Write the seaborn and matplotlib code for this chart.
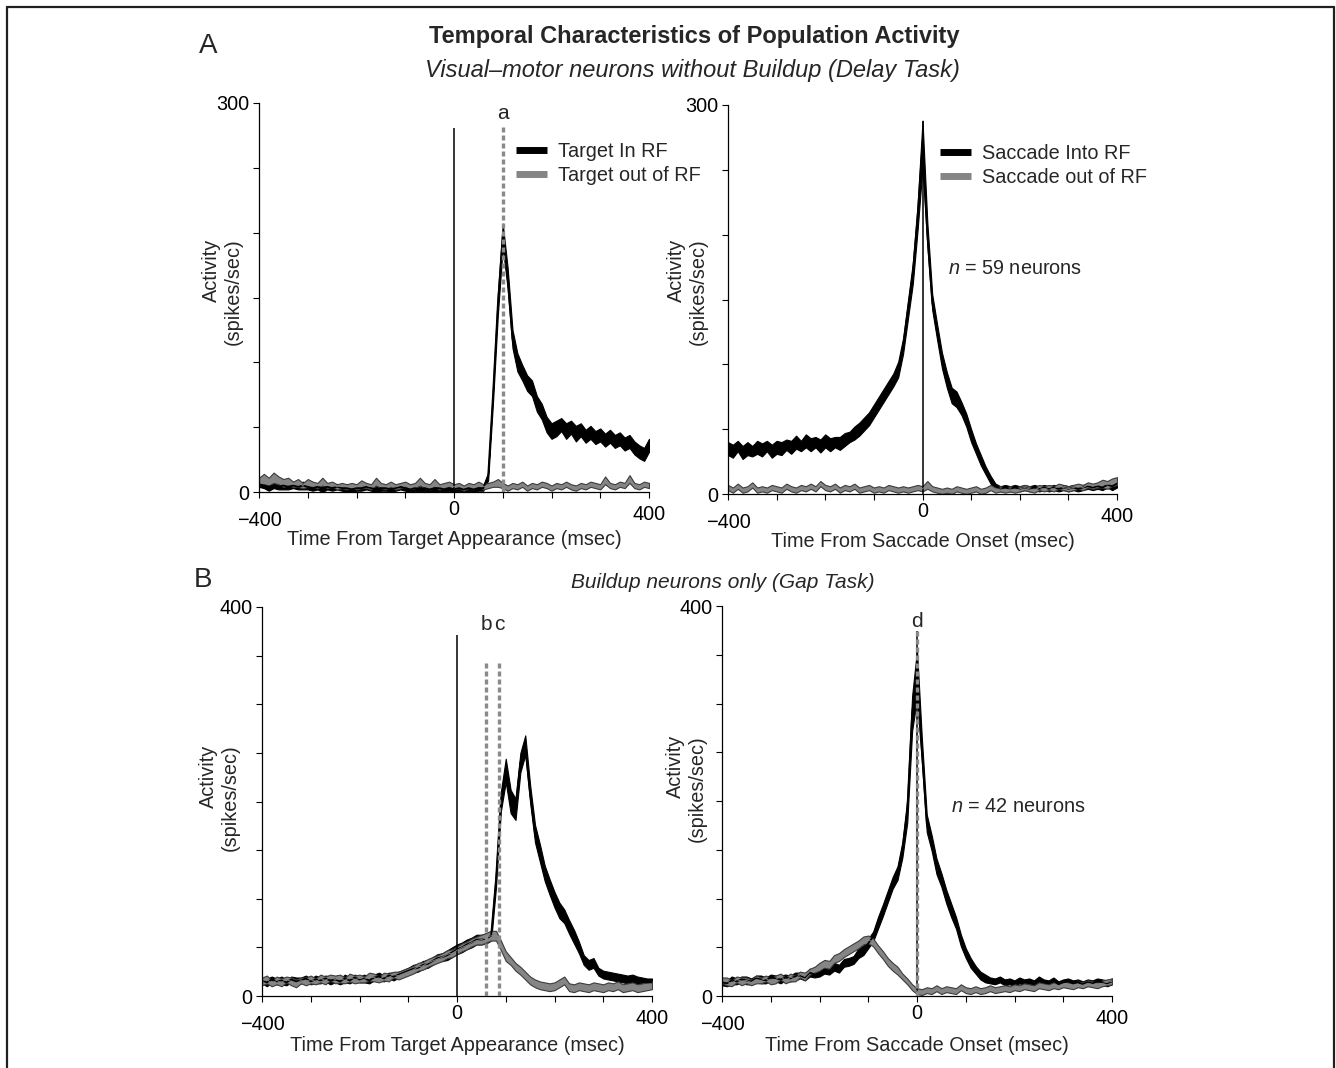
import matplotlib
matplotlib.use("Agg")
import matplotlib.pyplot as plt
import seaborn as sns
import pandas as pd
from matplotlib.lines import Line2D

# time axis (msec), one sample every 10 ms
T = list(range(-400, 401, 10))

# --- A, left: aligned on target appearance (visual-motor, delay task) ---
a_tgt_in = [6, 5, 4, 5, 4, 5, 4, 5, 4, 5,
            4, 3, 4, 3, 4, 3, 4, 3, 3, 2,
            3, 3, 4, 3, 2, 3, 3, 2, 3, 4,
            3, 2, 3, 2, 3, 2, 3, 3, 2, 3,
            2, 3, 2, 3, 2, 3, 3, 12, 75, 145,
            198, 165, 118, 100, 92, 84, 80, 68, 62, 52,
            47, 49, 52, 47, 50, 45, 48, 43, 46, 42,
            44, 40, 43, 39, 41, 37, 39, 34, 31, 29,
            36]
a_tgt_in_sem = [2, 2, 3, 2, 2, 3, 2, 2, 2, 3,
                2, 2, 2, 3, 2, 2, 2, 2, 3, 2,
                2, 2, 2, 2, 3, 2, 2, 2, 2, 2,
                2, 3, 2, 2, 2, 2, 3, 2, 2, 2,
                2, 2, 2, 2, 2, 2, 2, 3, 6, 8,
                9, 8, 7, 7, 6, 6, 6, 6, 6, 6,
                6, 6, 5, 6, 5, 6, 5, 5, 5, 5,
                5, 5, 5, 5, 5, 5, 5, 5, 5, 5,
                5]
a_tgt_out = [8, 10, 8, 11, 9, 7, 8, 6, 7, 5,
             7, 6, 5, 8, 5, 6, 4, 5, 4, 5,
             4, 6, 5, 4, 8, 5, 4, 6, 4, 5,
             6, 4, 5, 8, 5, 4, 7, 4, 5, 6,
             4, 5, 3, 5, 4, 6, 4, 5, 6, 7,
             5, 3, 5, 4, 6, 3, 5, 4, 6, 5,
             3, 5, 4, 6, 4, 3, 5, 4, 6, 5,
             4, 9, 5, 4, 6, 5, 10, 5, 4, 6,
             5]
a_tgt_out_sem = [3, 4, 3, 4, 3, 3, 3, 2, 3, 2,
                 3, 2, 2, 3, 2, 2, 2, 2, 2, 2,
                 2, 3, 2, 2, 3, 2, 2, 2, 2, 2,
                 2, 2, 2, 3, 2, 2, 3, 2, 2, 2,
                 2, 2, 2, 2, 2, 2, 2, 2, 2, 3,
                 2, 2, 2, 2, 2, 2, 2, 2, 2, 2,
                 2, 2, 2, 2, 2, 2, 2, 2, 2, 2,
                 2, 3, 2, 2, 2, 2, 3, 2, 2, 2,
                 2]

# --- A, right: aligned on saccade onset ---
a_sac_in = [35, 33, 37, 32, 35, 33, 36, 34, 37, 33,
            36, 35, 38, 36, 40, 37, 41, 38, 40, 37,
            41, 38, 40, 39, 42, 44, 47, 50, 54, 58,
            64, 70, 76, 82, 88, 96, 114, 142, 170, 214,
            270, 200, 148, 125, 103, 88, 76, 73, 66, 57,
            45, 35, 26, 18, 11, 6, 4, 5, 4, 5,
            4, 5, 4, 5, 4, 5, 4, 5, 4, 5,
            4, 5, 4, 5, 6, 5, 6, 5, 7, 6,
            8]
a_sac_in_sem = [5, 5, 4, 5, 5, 4, 5, 5, 4, 5,
                5, 5, 4, 5, 5, 4, 5, 5, 4, 5,
                5, 5, 4, 5, 5, 4, 5, 5, 5, 5,
                5, 5, 5, 5, 5, 6, 6, 7, 8, 10,
                18, 9, 6, 6, 6, 6, 6, 6, 5, 5,
                5, 4, 4, 3, 3, 2, 2, 2, 2, 2,
                2, 2, 2, 2, 2, 2, 2, 2, 2, 2,
                2, 2, 2, 2, 2, 2, 2, 2, 2, 3,
                3]
a_sac_out = [5, 3, 6, 3, 4, 7, 3, 4, 3, 5,
             4, 3, 6, 4, 3, 5, 4, 6, 4, 8,
             5, 4, 6, 3, 5, 4, 6, 3, 4, 5,
             3, 4, 3, 5, 4, 3, 4, 3, 4, 5,
             4, 7, 4, 3, 2, 3, 2, 4, 3, 2,
             3, 4, 2, 3, 5, 3, 4, 3, 4, 3,
             4, 5, 4, 3, 5, 4, 5, 4, 6, 5,
             4, 5, 6, 5, 7, 6, 7, 8, 7, 9,
             10]
a_sac_out_sem = [2, 2, 2, 2, 2, 2, 2, 2, 2, 2,
                 2, 2, 2, 2, 2, 2, 2, 2, 2, 2,
                 2, 2, 2, 2, 2, 2, 2, 2, 2, 2,
                 2, 2, 2, 2, 2, 2, 2, 2, 2, 2,
                 2, 3, 2, 2, 2, 2, 2, 2, 2, 2,
                 2, 2, 2, 2, 2, 2, 2, 2, 2, 2,
                 2, 2, 2, 2, 2, 2, 2, 2, 2, 2,
                 2, 2, 2, 2, 2, 2, 2, 3, 3, 3,
                 3]

# --- B, left: buildup neurons, gap task, aligned on target ---
b_tgt_in = [16, 14, 17, 15, 16, 14, 17, 15, 16, 18,
            15, 17, 16, 18, 16, 17, 15, 18, 16, 19,
            17, 18, 16, 19, 20, 18, 21, 20, 22, 24,
            26, 28, 29, 32, 33, 36, 39, 40, 42, 45,
            48, 50, 53, 55, 58, 58, 59, 62, 120, 200,
            232, 200, 192, 240, 258, 208, 167, 147, 126, 112,
            99, 88, 82, 71, 61, 50, 37, 32, 34, 25,
            22, 21, 20, 19, 18, 17, 18, 16, 15, 14,
            14]
b_tgt_in_sem = [3, 4, 3, 3, 4, 3, 3, 4, 3, 3,
                3, 4, 3, 3, 4, 3, 3, 4, 3, 3,
                3, 4, 3, 3, 4, 3, 3, 4, 3, 3,
                3, 4, 4, 4, 4, 4, 4, 4, 5, 5,
                5, 5, 5, 5, 5, 5, 5, 5, 8, 10,
                12, 12, 11, 10, 10, 9, 9, 9, 8, 8,
                8, 8, 7, 7, 7, 6, 5, 5, 5, 4,
                4, 4, 4, 4, 4, 4, 4, 4, 4, 4,
                4]
b_tgt_out = [15, 17, 13, 16, 14, 17, 15, 13, 16, 15,
             17, 15, 18, 16, 19, 17, 18, 16, 19, 17,
             18, 17, 20, 19, 17, 20, 19, 22, 21, 23,
             25, 27, 30, 31, 34, 36, 38, 40, 43, 44,
             47, 50, 52, 55, 57, 58, 60, 62, 62, 52,
             41, 36, 30, 26, 21, 16, 13, 11, 10, 9,
             10, 13, 16, 9, 8, 10, 9, 8, 10, 9,
             8, 10, 9, 11, 8, 9, 10, 8, 9, 10,
             11]
b_tgt_out_sem = [4, 4, 3, 4, 4, 3, 4, 4, 3, 4,
                 4, 3, 4, 4, 3, 4, 4, 3, 4, 4,
                 4, 3, 4, 4, 3, 4, 4, 3, 4, 4,
                 4, 4, 4, 4, 4, 4, 4, 4, 4, 4,
                 4, 4, 4, 4, 4, 5, 5, 5, 5, 5,
                 5, 4, 4, 4, 4, 4, 4, 4, 4, 4,
                 4, 4, 4, 4, 4, 4, 4, 4, 4, 4,
                 4, 4, 4, 4, 4, 4, 4, 4, 4, 4,
                 4]

# --- B, right: aligned on saccade onset ---
b_sac_in = [14, 13, 16, 15, 17, 16, 15, 18, 17, 16,
            19, 18, 17, 19, 18, 20, 21, 19, 24, 22,
            23, 27, 25, 30, 28, 34, 35, 37, 44, 47,
            54, 61, 75, 88, 102, 116, 126, 150, 190, 290,
            330, 252, 177, 157, 133, 119, 102, 88, 75, 57,
            44, 34, 27, 21, 18, 16, 15, 17, 14, 15,
            13, 16, 14, 15, 13, 17, 14, 13, 16, 12,
            14, 15, 13, 14, 12, 14, 13, 15, 14, 13,
            15]
b_sac_in_sem = [3, 3, 4, 3, 3, 4, 3, 3, 4, 3,
                3, 3, 4, 3, 3, 4, 3, 3, 4, 3,
                3, 4, 3, 4, 4, 4, 4, 4, 5, 5,
                5, 5, 6, 6, 6, 6, 7, 8, 12, 18,
                25, 12, 9, 8, 8, 7, 7, 7, 6, 6,
                5, 5, 4, 4, 4, 3, 3, 3, 3, 3,
                3, 3, 3, 3, 3, 3, 3, 3, 3, 3,
                3, 3, 3, 3, 3, 3, 3, 3, 3, 3,
                3]
b_sac_out = [16, 15, 13, 17, 15, 16, 14, 17, 16, 18,
             15, 17, 20, 16, 19, 18, 22, 20, 25, 27,
             30, 33, 32, 38, 40, 44, 47, 50, 53, 57,
             58, 55, 48, 42, 35, 30, 26, 20, 15, 9,
             5, 4, 6, 5, 8, 5, 7, 6, 5, 9,
             6, 5, 7, 5, 6, 8, 6, 7, 8, 7,
             9, 8, 10, 9, 8, 11, 10, 9, 11, 10,
             12, 11, 10, 12, 11, 13, 12, 11, 13, 14,
             15]
b_sac_out_sem = [3, 4, 3, 3, 4, 3, 3, 4, 3, 3,
                 3, 4, 3, 3, 4, 3, 3, 4, 3, 3,
                 4, 4, 4, 4, 4, 4, 4, 4, 4, 4,
                 4, 4, 4, 4, 4, 4, 4, 3, 3, 3,
                 3, 3, 3, 3, 3, 3, 3, 3, 3, 3,
                 3, 3, 3, 3, 3, 3, 3, 3, 3, 3,
                 3, 3, 3, 3, 3, 3, 3, 3, 3, 3,
                 3, 3, 3, 3, 3, 3, 3, 3, 3, 3,
                 3]

# event markers: (label, time)
a_tgt_marks = [("a", 100)]
b_tgt_marks = [("b", 60), ("c", 87)]
b_sac_marks = [("d", 0)]

W, H = 1336, 1068
GRAY = "#858585"
EDGE = "#3c3c3c"
DASH = "#8a8a8a"
FS = 14.3

sns.set_style("ticks")
plt.rcParams["font.family"] = ["Liberation Sans", "DejaVu Sans"]
plt.rcParams["mathtext.fontset"] = "custom"
plt.rcParams["mathtext.it"] = "Liberation Sans:italic"
plt.rcParams["mathtext.rm"] = "Liberation Sans"

fig = plt.figure(figsize=(W / 100, H / 100), dpi=100)


def band_frame(mean, sem):
    # three rows per time point so that seaborn's min-max interval is mean +- sem
    rows = []
    for t, m, s in zip(T, mean, sem):
        rows += [(t, m - s), (t, m), (t, m + s)]
    return pd.DataFrame(rows, columns=["t", "rate"])


def px_axes(x0, y0, x1, y1):
    return fig.add_axes([x0 / W, 1 - y1 / H, (x1 - x0) / W, (y1 - y0) / H])


def panel(box, ymax, m_in, s_in, m_out, s_out, xlabel, onset_top, marks, mark_top,
          mark_text_y, legend=None, legend_x=0.0, ntext=None, ylab_x=-0.045,
          ylab_y=0.515, xlab_y=-0.098):
    ax = px_axes(*box)
    for mean, sem, face, edge, lw in [(m_in, s_in, "black", "black", 1.3),
                                      (m_out, s_out, GRAY, EDGE, 0.6)]:
        sns.lineplot(data=band_frame(mean, sem), x="t", y="rate", estimator="mean",
                     errorbar=("pi", 100), color=face, lw=lw, ax=ax,
                     err_kws=dict(alpha=1, linewidth=0.8))
        ax.collections[-1].set_edgecolor(edge)
        ax.collections[-1].set_facecolor(face)

    ax.vlines(0, 0, onset_top, color="black", lw=1.1, zorder=1)
    for lab, t in marks:
        ax.vlines(t, 0, mark_top, color=DASH, lw=2.4, linestyles=(0, (1.5, 0.9)), zorder=5)
        ax.text(t, mark_text_y, lab, ha="center", va="baseline", fontsize=15)

    ax.set_xlim(-400, 400)
    ax.set_ylim(0, ymax)
    ax.set_xticks(range(-400, 401, 100))
    ax.set_xticklabels(["\u2212400", "", "", "", "0", "", "", "", "400"])
    yt = list(range(0, ymax + 1, 50))
    ax.set_yticks(yt)
    ax.set_yticklabels([str(v) if v in (0, ymax) else "" for v in yt])
    ax.tick_params(direction="out", length=4, width=0.8, labelsize=FS, colors="black")
    ax.tick_params(axis="y", pad=3)
    for tk, pad in zip(ax.xaxis.get_major_ticks(), [9.5, 0, 0, 0, 1.5, 0, 0, 0, 5]):
        tk.set_pad(pad)
    sns.despine(ax=ax)
    for sp in ("left", "bottom"):
        ax.spines[sp].set_linewidth(0.9)
        ax.spines[sp].set_color("black")

    ax.set_xlabel(xlabel, fontsize=FS, va="top")
    ax.xaxis.set_label_coords(0.5, xlab_y)
    ax.set_ylabel("Activity\n(spikes/sec)", fontsize=FS, multialignment="right")
    ax.yaxis.set_label_coords(ylab_x, ylab_y)

    if legend:
        handles = [Line2D([], [], color="black", lw=5, solid_capstyle="butt"),
                   Line2D([], [], color=GRAY, lw=5, solid_capstyle="butt")]
        ax.legend(handles, legend, loc="upper left", bbox_to_anchor=(legend_x, 0.9),
                  frameon=False, fontsize=FS, handlelength=1.55, handletextpad=0.55,
                  labelspacing=0.25, borderpad=0, borderaxespad=0)
    if ntext:
        ax.text(ntext[0], ntext[1], ntext[2], ha="left", va="center", fontsize=FS)
    return ax


panel((259, 103, 649, 492), 300, a_tgt_in, a_tgt_in_sem, a_tgt_out, a_tgt_out_sem,
      "Time From Target Appearance (msec)", 281, a_tgt_marks, 284, 288,
      legend=["Target In RF", "Target out of RF"], legend_x=0.659,
      ylab_x=-0.042, ylab_y=0.515)
panel((728, 105, 1117, 494), 300, a_sac_in, a_sac_in_sem, a_sac_out, a_sac_out_sem,
      "Time From Saccade Onset (msec)", 288, [], 0, 0,
      legend=["Saccade Into RF", "Saccade out of RF"], legend_x=0.546,
      ntext=(52, 174, "$n$ = 59 neurons"), ylab_x=-0.052, ylab_y=0.52)
panel((262, 607, 652, 996), 400, b_tgt_in, b_tgt_in_sem, b_tgt_out, b_tgt_out_sem,
      "Time From Target Appearance (msec)", 371, b_tgt_marks, 346, 376,
      ylab_x=-0.056, ylab_y=0.509, xlab_y=-0.103)
panel((722, 606, 1112, 996), 400, b_sac_in, b_sac_in_sem, b_sac_out, b_sac_out_sem,
      "Time From Saccade Onset (msec)", 374, b_sac_marks, 374, 378,
      ntext=(69, 194, "$n$ = 42 neurons"), ylab_x=-0.038, ylab_y=0.533, xlab_y=-0.103)

# headings
fig.text(694 / W, 1 - 36 / H, "Temporal Characteristics of Population Activity",
         ha="center", va="center", fontsize=17, fontweight="bold")
fig.text(692 / W, 1 - 71 / H, "Visual\u2013motor neurons without Buildup (Delay Task)",
         ha="center", va="center", fontsize=17, style="italic")
fig.text(723 / W, 1 - 582 / H, "Buildup neurons only (Gap Task)",
         ha="center", va="center", fontsize=15, style="italic")
fig.text(208 / W, 1 - 46 / H, "A", ha="center", va="center", fontsize=20)
fig.text(203 / W, 1 - 580 / H, "B", ha="center", va="center", fontsize=20)

# frame around the figure (open at the bottom)
for xs, ys in [([7, 7], [H, 7]), ([7, 1334], [7, 7]), ([1334, 1334], [7, H])]:
    fig.add_artist(Line2D([x / W for x in xs], [1 - y / H for y in ys],
                          transform=fig.transFigure, color="#231f20", lw=1.6))

fig.savefig("out.png", dpi=100, facecolor="white")
